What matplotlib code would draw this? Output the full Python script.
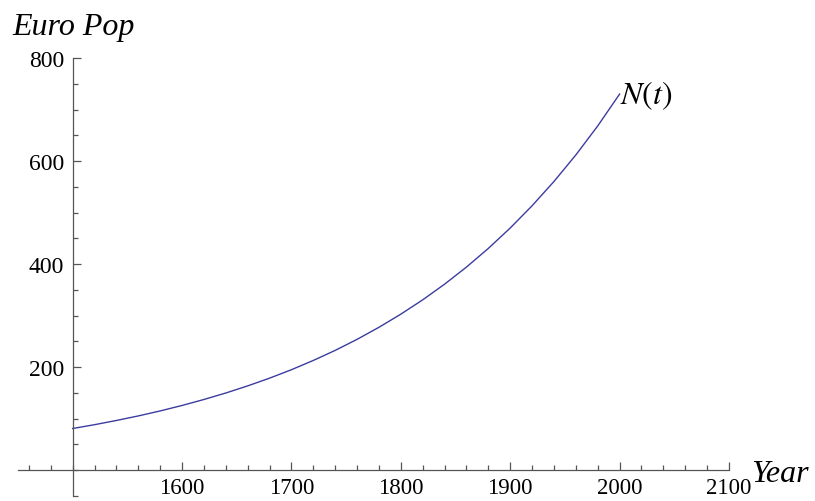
import matplotlib
matplotlib.use("Agg")
import matplotlib.pyplot as plt
from matplotlib.ticker import MultipleLocator, FixedLocator

plt.rcParams["font.family"] = ["Liberation Serif", "DejaVu Serif"]
plt.rcParams["mathtext.fontset"] = "stix"

# European population (millions) by year
years = [1500, 1520, 1540, 1560, 1580, 1600, 1620, 1640, 1660, 1680,
         1700, 1720, 1740, 1760, 1780, 1800, 1820, 1840, 1860, 1880,
         1900, 1920, 1940, 1960, 1980, 2000]
population = [81.0, 88.4, 96.6, 105.4, 115.1, 125.7, 137.3, 149.9, 163.7, 178.7,
              195.1, 213.1, 232.6, 254.0, 277.4, 302.9, 330.7, 361.1, 394.3, 430.5,
              470.1, 513.3, 560.4, 611.9, 668.2, 730.0]

x_ticks = [1600, 1700, 1800, 1900, 2000, 2100]
y_ticks = [200, 400, 600, 800]

fig = plt.figure(figsize=(8.15, 5.02), dpi=100)
ax = fig.add_axes([18 / 815, 5 / 502, 711 / 815, 438 / 502])

ax.plot(years, population, color="#3c3ca0", lw=1.0)

ax.set_xlim(1450, 2100)
ax.set_ylim(-50, 800)

for s in ("top", "right"):
    ax.spines[s].set_visible(False)
ax.spines["left"].set_position(("data", 1500))
ax.spines["bottom"].set_position(("data", 0))
for s in ("left", "bottom"):
    ax.spines[s].set_color("#555555")
    ax.spines[s].set_linewidth(0.9)

ax.xaxis.set_major_locator(FixedLocator(x_ticks))
ax.xaxis.set_minor_locator(MultipleLocator(20))
ax.yaxis.set_major_locator(FixedLocator(y_ticks))
ax.yaxis.set_minor_locator(MultipleLocator(50))

ax.tick_params(which="both", direction="in", color="#555555", width=0.9)
ax.tick_params(which="major", length=6)
ax.tick_params(which="minor", length=3.6)
ax.tick_params(axis="x", which="major", labelsize=16.5, pad=5)
ax.tick_params(axis="y", which="major", labelsize=17, pad=6)

ax.text(2000, 728, r"$N(t)$", fontsize=23, ha="left", va="center")

fig.text(12 / 815, (502 - 35) / 502, "Euro Pop", fontsize=23,
         style="italic", ha="left", va="baseline")
fig.text(751 / 815, (502 - 482) / 502, "Year", fontsize=23,
         style="italic", ha="left", va="baseline")

fig.savefig("out.png", dpi=100)
